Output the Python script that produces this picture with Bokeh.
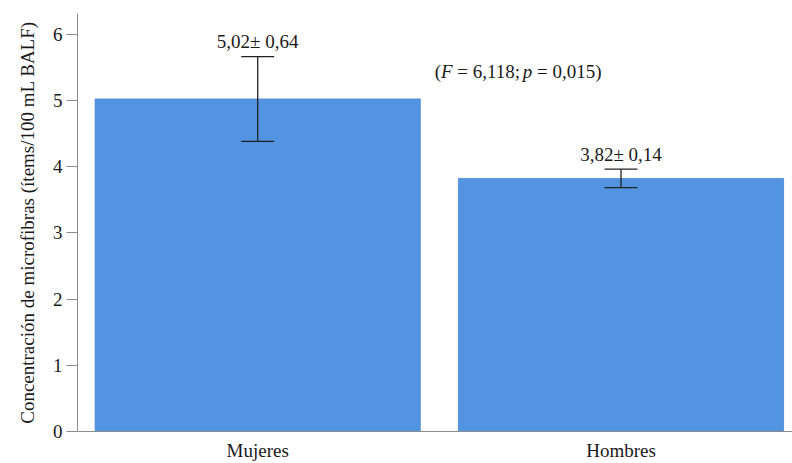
from bokeh.plotting import figure
from bokeh.models import (Range1d, Label, ColumnDataSource, Whisker, TeeHead,
                          FixedTicker, BoxAnnotation)
from bokeh.core.properties import value
from bokeh.embed import file_html
from bokeh.resources import INLINE

# ---- data ----
categories = ["Mujeres", "Hombres"]
means = [5.02, 3.82]
errors = [0.64, 0.14]
y_ticks = [0, 1, 2, 3, 4, 5, 6]
stat_F = "6,118"
stat_p = "0,015"

FONT = "Liberation Serif"
BAR = "#5294e2"
AXIS = "#8c8c8c"
TXT = "#1a1a1a"
FS = "19px"

pos = list(range(len(categories)))
fmt = lambda v: f"{v:.2f}".replace(".", ",")
src = ColumnDataSource(dict(
    x=pos,
    top=means,
    upper=[m + e for m, e in zip(means, errors)],
    lower=[m - e for m, e in zip(means, errors)],
    lab=[f"{fmt(m)}\u00b1 {fmt(e)}" for m, e in zip(means, errors)],
))

p = figure(width=792, height=463, output_backend="svg", toolbar_location=None,
           x_range=Range1d(-0.496, 1.472), y_range=Range1d(0, 6.31),
           min_border_left=77, min_border_right=0, min_border_top=13,
           min_border_bottom=28)
p.outline_line_color = None
p.xgrid.visible = False
p.ygrid.visible = False
p.background_fill_color = "white"
p.border_fill_color = "white"

p.vbar(x="x", top="top", bottom=0, width=0.895, source=src,
       fill_color=BAR, line_color="#4a86d0", line_width=0.8)

w = Whisker(base="x", upper="upper", lower="lower", source=src, level="overlay",
            line_color="#222222", line_width=1.3,
            upper_head=TeeHead(size=33, line_color="#222222", line_width=1.3),
            lower_head=TeeHead(size=33, line_color="#222222", line_width=1.3))
p.add_layout(w)

p.text(x="x", y="upper", text="lab", source=src, text_font=value(FONT),
       text_font_size=FS, text_align="center", text_baseline="alphabetic",
       y_offset=-15, text_color=TXT)

# statistics annotation with italic F and p
parts = [("(", "normal", 0), ("F", "italic", 6.3), (f"= {stat_F};", "normal", 22.7),
         ("p", "italic", 88.0), (f"= {stat_p})", "normal", 102.3)]
for txt, style, off in parts:
    p.add_layout(Label(x=0.487, y=5.43, text=txt, x_offset=off,
                       text_font=FONT, text_font_size=FS,
                       text_font_style=style, text_color=TXT,
                       text_align="left", text_baseline="alphabetic"))

# thin grey frame line along the top edge of the picture
p.add_layout(BoxAnnotation(left=0, right=792, top=0, bottom=2,
                           left_units="canvas", right_units="canvas",
                           top_units="canvas", bottom_units="canvas",
                           fill_color="#7f7f7f", fill_alpha=1.0,
                           line_color=None, level="overlay"))

# axes
ya = p.yaxis[0]
ya.ticker = FixedTicker(ticks=y_ticks)
ya.axis_label = "Concentración de microfibras (ítems/100 mL BALF)"
ya.axis_label_text_font = FONT
ya.axis_label_text_font_size = FS
ya.axis_label_text_font_style = "normal"
ya.axis_label_text_color = TXT
ya.axis_label_standoff = 12
ya.major_label_text_font = FONT
ya.major_label_text_font_size = FS
ya.major_label_text_color = TXT
ya.major_label_standoff = 4
ya.major_tick_out = 11
ya.major_tick_in = 0
ya.minor_tick_line_color = None
ya.axis_line_color = AXIS
ya.major_tick_line_color = AXIS

xa = p.xaxis[0]
xa.ticker = FixedTicker(ticks=pos)
xa.major_label_overrides = {i: c for i, c in zip(pos, categories)}
xa.major_label_text_font = FONT
xa.major_label_text_font_size = FS
xa.major_label_text_color = TXT
xa.major_label_standoff = 8
xa.major_tick_out = 0
xa.major_tick_in = 0
xa.minor_tick_line_color = None
xa.major_tick_line_color = None
xa.axis_line_color = AXIS

open("out.html", "w").write(file_html(p, INLINE))
